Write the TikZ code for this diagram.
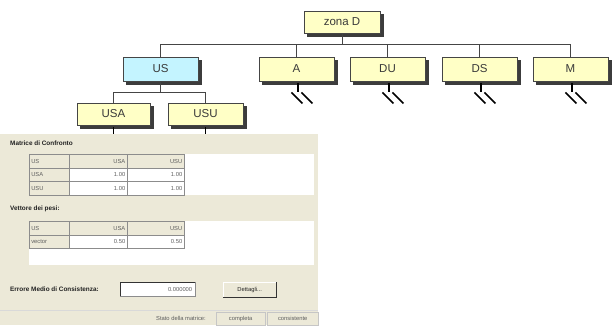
\documentclass[tikz,border=0pt]{standalone}
\usepackage{fontspec}
\setmainfont{Liberation Sans}
\definecolor{boxyellow}{HTML}{FFFFC6}
\definecolor{boxcyan}{HTML}{C4F4FF}
\definecolor{boxedge}{HTML}{454545}
\definecolor{shadowgray}{HTML}{3C3C3C}
\definecolor{boxtext}{HTML}{3A3A3A}
\definecolor{panelbg}{HTML}{ECE9D8}
\definecolor{gridgray}{HTML}{8C8C8C}
\definecolor{celltext}{HTML}{5E5E5E}
\definecolor{labeltext}{HTML}{222222}
\begin{document}
\begin{tikzpicture}[x=1pt,y=-1pt,
  treebox/.style={draw=boxedge, line width=0.9pt, fill=boxyellow,
    minimum width=75pt, minimum height=24pt, inner sep=0pt, text=boxtext,
    font=\fontsize{11.5}{12}\selectfont,
    preaction={fill=shadowgray, draw=shadowgray, transform canvas={xshift=3pt, yshift=-3pt}}},
  conn/.style={draw=boxedge, line width=0.8pt},
  stem/.style={draw=black, line width=1.6pt},
  lbl/.style={anchor=west, inner sep=0pt, font=\bfseries\fontsize{6.4}{7}\selectfont, text=labeltext},
  small/.style={font=\fontsize{5.8}{6}\selectfont, text=celltext},
  listbox/.style={fill=white, draw=none, anchor=north west, inner sep=0pt},
  cell/.style={small, draw=gridgray, line width=0.5pt, anchor=north west,
    minimum height=13.5pt, inner xsep=2pt, inner ysep=0pt},
  head/.style={cell, fill=panelbg},
  datacell/.style={cell, fill=white},
  colA/.style={text width=36pt, align=left},
  colB/.style={text width=54pt, align=right},
  colC/.style={text width=53pt, align=right},
  stcell/.style={small, draw=gray!45, anchor=north west, minimum height=13pt, inner sep=0pt}
]
\useasboundingbox (0,0) rectangle (612,325);
\fill[white] (0,0) rectangle (612,325);

% ---------- hierarchy ----------
\node[treebox, minimum width=76pt, minimum height=22pt] (zd) at (342,22) {zona D};
\node[treebox, fill=boxcyan] (us) at (160.5,69) {US};
\node[treebox] (a)  at (296.5,69) {A};
\node[treebox] (du) at (387.5,69) {DU};
\node[treebox] (ds) at (479.5,69) {DS};
\node[treebox] (m)  at (570.5,69) {M};
\node[treebox, minimum width=73pt, minimum height=22pt] (usa) at (113.5,114) {USA};
\node[treebox, minimum height=22pt] (usu) at (205.5,114) {USU};

\coordinate (bus) at (342,44);
\draw[conn] (zd.south) -- (bus);
\foreach \n in {us,a,du,ds,m} \draw[conn] (bus) -| (\n.north);

\coordinate (usbus) at (160.5,92);
\draw[conn] (us.south) -- (usbus);
\foreach \n in {usa,usu} \draw[conn] (usbus) -| (\n.north);

% collapsed branches
\foreach \n in {a,du,ds,m} {
  \draw[stem] ([shift={(1.5,1.5)}]\n.south) -- ++(0,9.5);
  \draw[stem] (\n.south) ++(-5,11) -- ++(11,11);
  \draw[stem] (\n.south) ++(5,11) -- ++(11,11);
}

% ---------- comparison panel ----------
\node[fill=panelbg, anchor=north west, minimum width=318pt, minimum height=191pt, inner sep=0pt] (panel) at (0,134) {};
\foreach \n in {usa,usu} \draw[stem] ([shift={(0,1.5)}]\n.south) -- (\n.south |- panel.north);

\node[lbl] (lblmat) at (10,143) {Matrice di Confronto};
\node[listbox, minimum width=285pt, minimum height=40.5pt] (list1) at (29,154) {};
\node[head,colA] (t1h1) at (29,154) {US};
\node[head,colB] (t1h2) at (69,154) {USA};
\node[head,colC] (t1h3) at (127,154) {USU};
\node[head,colA] (t1r1) at (29,167.5) {USA};
\node[datacell,colB] (t1a) at (69,167.5) {1.00};
\node[datacell,colC] (t1b) at (127,167.5) {1.00};
\node[head,colA] (t1r2) at (29,181) {USU};
\node[datacell,colB] (t1c) at (69,181) {1.00};
\node[datacell,colC] (t1d) at (127,181) {1.00};

\node[lbl] (lblvet) at (10,209) {Vettore dei pesi:};
\node[listbox, minimum width=285pt, minimum height=44pt] (list2) at (29,221) {};
\node[head,colA] (t2h1) at (29,221) {US};
\node[head,colB] (t2h2) at (69,221) {USA};
\node[head,colC] (t2h3) at (127,221) {USU};
\node[head,colA] (t2r1) at (29,234.5) {vector};
\node[datacell,colB] (t2a) at (69,234.5) {0.50};
\node[datacell,colC] (t2b) at (127,234.5) {0.50};

\node[lbl] (lblerr) at (10,289) {Errore Medio di Consistenza:};
\node[small, anchor=north west, fill=white, draw=gridgray, minimum height=14pt,
  inner xsep=3pt, inner ysep=0pt, text width=69pt, align=right] (errbox) at (120,282) {0.000000};
\draw[gray!40!black, line width=0.6pt] (errbox.south west) |- (errbox.north east);
\node[small, text=labeltext, anchor=north west, fill=panelbg, minimum width=53pt,
  minimum height=15pt, inner sep=0pt] (btn) at (223,282) {Dettagli...};
\draw[white, line width=0.8pt] (btn.south west) |- (btn.north east);
\draw[gray!40!black, line width=0.8pt] (btn.south west) -| (btn.north east);

% status bar
\coordinate (sbl) at (0,310);
\coordinate (sbr) at (318,310);
\draw[gray!30, line width=0.6pt] (sbl) -- (sbr);
\node[small, anchor=east, inner sep=0pt] (stato) at (206,318.5) {Stato della matrice:};
\node[stcell, minimum width=49pt] (st1) at (216,312) {completa};
\node[stcell, minimum width=51pt] (st2) at (267,312) {consistente};
\end{tikzpicture}
\end{document}
